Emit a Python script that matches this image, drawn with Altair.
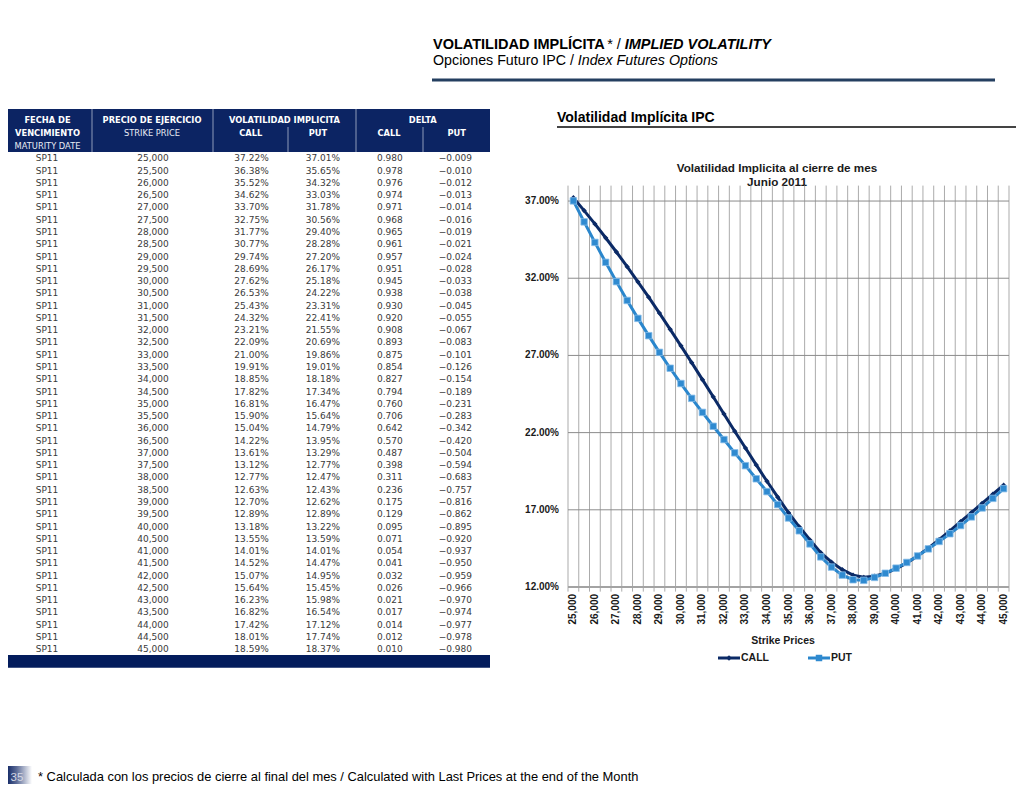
import altair as alt
import pandas as pd

# ---------------- data ----------------
maturity = ["SP11"] * 41
strikes = [25000, 25500, 26000, 26500, 27000, 27500, 28000, 28500, 29000, 29500,
           30000, 30500, 31000, 31500, 32000, 32500, 33000, 33500, 34000, 34500,
           35000, 35500, 36000, 36500, 37000, 37500, 38000, 38500, 39000, 39500,
           40000, 40500, 41000, 41500, 42000, 42500, 43000, 43500, 44000, 44500,
           45000]
call_vol = [37.22, 36.38, 35.52, 34.62, 33.70, 32.75, 31.77, 30.77, 29.74, 28.69,
            27.62, 26.53, 25.43, 24.32, 23.21, 22.09, 21.00, 19.91, 18.85, 17.82,
            16.81, 15.90, 15.04, 14.22, 13.61, 13.12, 12.77, 12.63, 12.70, 12.89,
            13.18, 13.55, 14.01, 14.52, 15.07, 15.64, 16.23, 16.82, 17.42, 18.01,
            18.59]
put_vol = [37.01, 35.65, 34.32, 33.03, 31.78, 30.56, 29.40, 28.28, 27.20, 26.17,
           25.18, 24.22, 23.31, 22.41, 21.55, 20.69, 19.86, 19.01, 18.18, 17.34,
           16.47, 15.64, 14.79, 13.95, 13.29, 12.77, 12.47, 12.43, 12.62, 12.89,
           13.22, 13.59, 14.01, 14.47, 14.95, 15.45, 15.98, 16.54, 17.12, 17.74,
           18.37]
call_delta = [0.980, 0.978, 0.976, 0.974, 0.971, 0.968, 0.965, 0.961, 0.957, 0.951,
              0.945, 0.938, 0.930, 0.920, 0.908, 0.893, 0.875, 0.854, 0.827, 0.794,
              0.760, 0.706, 0.642, 0.570, 0.487, 0.398, 0.311, 0.236, 0.175, 0.129,
              0.095, 0.071, 0.054, 0.041, 0.032, 0.026, 0.021, 0.017, 0.014, 0.012,
              0.010]
put_delta = [-0.009, -0.010, -0.012, -0.013, -0.014, -0.016, -0.019, -0.021, -0.024, -0.028,
             -0.033, -0.038, -0.045, -0.055, -0.067, -0.083, -0.101, -0.126, -0.154, -0.189,
             -0.231, -0.283, -0.342, -0.420, -0.504, -0.594, -0.683, -0.757, -0.816, -0.862,
             -0.895, -0.920, -0.937, -0.950, -0.959, -0.966, -0.970, -0.974, -0.977, -0.978,
             -0.980]
y_ticks = [12, 17, 22, 27, 32, 37]
x_ticks = [25000, 26000, 27000, 28000, 29000, 30000, 31000, 32000, 33000, 34000,
           35000, 36000, 37000, 38000, 39000, 40000, 41000, 42000, 43000, 44000, 45000]

df = pd.DataFrame({
    "mat": maturity, "strike": strikes, "call": call_vol, "put": put_vol,
    "dcall": call_delta, "dput": put_delta,
})
df["row"] = range(len(df))
ydf = pd.DataFrame({"v": y_ticks})
xdf = pd.DataFrame({"v": x_ticks})

ARIAL = "Liberation Sans"
VERD = "DejaVu Sans"
NAVY = "#0c2463"
CALL_C = "#0b2a66"
PUT_C = "#2a86cc"

one = pd.DataFrame({"k": [0]})


def label(text, x, y, size=12, weight="normal", style="normal", align="left",
          color="#000000", font=ARIAL, baseline="middle", angle=0):
    return alt.Chart(one).mark_text(
        text=text, font=font, fontSize=size, fontWeight=weight, fontStyle=style,
        align=align, baseline=baseline, color=color, angle=angle
    ).encode(x=alt.value(x), y=alt.value(y))


def box(x, x2, y, y2, color):
    return alt.Chart(one).mark_rect(color=color).encode(
        x=alt.value(x), x2=alt.value(x2), y=alt.value(y), y2=alt.value(y2))


def hline(x, x2, y, color, w):
    return alt.Chart(one).mark_rule(color=color, strokeWidth=w).encode(
        x=alt.value(x), x2=alt.value(x2), y=alt.value(y))


def vline(x, y, y2, color, w):
    return alt.Chart(one).mark_rule(color=color, strokeWidth=w).encode(
        x=alt.value(x), y=alt.value(y), y2=alt.value(y2))


layers = []

# ---------------- page header ----------------
layers += [
    label("VOLATILIDAD IMPLÍCITA", 425, 36.5, size=14.5, weight="bold"),
    label("* /", 606, 36.5, size=14.5, align="center"),
    label("IMPLIED VOLATILITY", 763, 36.5, size=14.5, weight="bold", style="italic", align="right"),
    label("Opciones Futuro IPC /", 425, 53, size=14.25),
    label("Index Futures Options", 710, 53, size=14.25, style="italic", align="right"),
    hline(424, 987, 72, "#243f60", 3),
]

# ---------------- table ----------------
ROW = alt.Scale(domain=[0, 40], range=[150.3, 641.3])
layers += [box(0, 482, 101, 144, NAVY), box(0, 482, 647, 659.7, "#031c5c")]
for sx in [84, 205, 348]:
    layers.append(vline(sx, 101, 144, "#8e9aba", 1))
for sx in [280, 415]:
    layers.append(vline(sx, 119, 144, "#8e9aba", 1))

hs = 8.3
layers += [
    label("FECHA DE", 39.5, 113, size=hs, weight="bold", align="center", color="white", font=VERD),
    label("VENCIMIENTO", 39.5, 126, size=hs, weight="bold", align="center", color="white", font=VERD),
    label("MATURITY DATE", 39.5, 139, size=hs, align="center", color="#e8ecf4", font=VERD),
    label("PRECIO DE EJERCICIO", 144, 113, size=hs, weight="bold", align="center", color="white", font=VERD),
    label("STRIKE PRICE", 144, 126, size=hs, align="center", color="#e8ecf4", font=VERD),
    label("VOLATILIDAD IMPLICITA", 276.5, 113, size=hs, weight="bold", align="center", color="white", font=VERD),
    label("CALL", 242.7, 126, size=hs, weight="bold", align="center", color="white", font=VERD),
    label("PUT", 310, 126, size=hs, weight="bold", align="center", color="white", font=VERD),
    label("DELTA", 414.7, 113, size=hs, weight="bold", align="center", color="white", font=VERD),
    label("CALL", 381, 126, size=hs, weight="bold", align="center", color="white", font=VERD),
    label("PUT", 448.7, 126, size=hs, weight="bold", align="center", color="white", font=VERD),
]


def tcol(expr, xpos, align):
    return alt.Chart(df).transform_calculate(t=expr).mark_text(
        align=align, baseline="middle", font=VERD, fontSize=9, color="#3a3a3a"
    ).encode(x=alt.value(xpos), y=alt.Y("row:Q", scale=ROW, axis=None), text="t:N")


layers += [
    tcol("datum.mat", 39, "center"),
    tcol("format(datum.strike, ',')", 160.7, "right"),
    tcol("format(datum.call, '.2f') + '%'", 260.7, "right"),
    tcol("format(datum.put, '.2f') + '%'", 332, "right"),
    tcol("format(datum.dcall, '.3f')", 394.7, "right"),
    tcol("format(datum.dput, '.3f')", 464, "right"),
]

# ---------------- chart ----------------
XS = alt.Scale(type="band", domain=strikes, range=[560, 1001], paddingInner=0, paddingOuter=0)
YS = alt.Scale(domain=[12, 38], range=[579, 177.6], nice=False, zero=False)

layers += [
    label("Volatilidad Implícita IPC", 549, 110, size=14, weight="bold"),
    hline(549, 1008, 119, "#444444", 2),
    label("Volatilidad Implicita  al cierre de mes", 769, 160, size=11.7, weight="bold",
          color="#1a1a1a", align="center"),
    label("Junio 2011", 769, 174, size=11.7, weight="bold", color="#1a1a1a", align="center"),
]

# vertical gridlines at category boundaries
layers.append(alt.Chart(df).mark_rule(color="#ababab", strokeWidth=1).encode(
    x=alt.X("strike:O", scale=XS, axis=None, bandPosition=0),
    y=alt.YDatum(38, type="quantitative", scale=YS, axis=None),
    y2=alt.Y2Datum(11.7),
))
layers.append(alt.Chart(df.tail(1)).mark_rule(color="#ababab", strokeWidth=1).encode(
    x=alt.X("strike:O", scale=XS, axis=None, bandPosition=1),
    y=alt.YDatum(38, type="quantitative", scale=YS, axis=None),
    y2=alt.Y2Datum(11.7),
))
# horizontal gridlines
layers.append(alt.Chart(ydf).transform_filter("datum.v > 12").mark_rule(
    color="#8c8c8c", strokeWidth=1).encode(
    y=alt.Y("v:Q", scale=YS, axis=None),
    x=alt.XDatum(strikes[0], type="ordinal", scale=XS, axis=None, bandPosition=0),
    x2=alt.X2Datum(strikes[-1], bandPosition=1),
))
layers.append(alt.Chart(ydf).transform_filter("datum.v == 12").mark_rule(
    color="#a3a3a3", strokeWidth=2).encode(
    y=alt.Y("v:Q", scale=YS, axis=None),
    x=alt.XDatum(strikes[0], type="ordinal", scale=XS, axis=None, bandPosition=0),
    x2=alt.X2Datum(strikes[-1], bandPosition=1),
))
# y labels
layers.append(alt.Chart(ydf).transform_calculate(t="format(datum.v, '.2f') + '%'").mark_text(
    align="right", baseline="middle", font=ARIAL, fontWeight="bold", fontSize=10, dx=-9,
    color="#1a1a1a").encode(
    x=alt.XDatum(strikes[0], type="ordinal", scale=XS, axis=None, bandPosition=0),
    y=alt.Y("v:Q", scale=YS, axis=None),
    text="t:N",
))
# x labels
layers.append(alt.Chart(xdf).mark_text(
    angle=270, align="right", baseline="middle", font=ARIAL, fontWeight="bold", fontSize=10,
    color="#1a1a1a").encode(
    x=alt.X("v:O", scale=XS, axis=None, bandPosition=0.5),
    y=alt.YDatum(11.55, type="quantitative", scale=YS, axis=None),
    text=alt.Text("v:Q", format=","),
))
layers.append(label("Strike Prices", 775, 633, size=10.5, weight="bold", align="center", color="#1a1a1a"))

# series
base = alt.Chart(df)
xenc = alt.X("strike:O", scale=XS, axis=None, bandPosition=0.5)
layers += [
    base.mark_line(color=CALL_C, strokeWidth=3).encode(x=xenc, y=alt.Y("call:Q", scale=YS, axis=None)),
    base.mark_point(shape="diamond", filled=True, size=28, color=CALL_C, opacity=1).encode(
        x=xenc, y=alt.Y("call:Q", scale=YS, axis=None)),
    base.mark_line(color=PUT_C, strokeWidth=3).encode(x=xenc, y=alt.Y("put:Q", scale=YS, axis=None)),
    base.mark_point(shape="square", filled=True, size=42, color="#2f8ad0", opacity=1,
                    stroke="#86bde8", strokeWidth=0.8).encode(
        x=xenc, y=alt.Y("put:Q", scale=YS, axis=None)),
]

# legend
layers += [
    hline(710, 732, 650, CALL_C, 3),
    alt.Chart(one).mark_point(shape="diamond", filled=True, size=30, color=CALL_C, opacity=1).encode(
        x=alt.value(721), y=alt.value(650)),
    label("CALL", 733, 650, size=10.5, weight="bold", color="#1a1a1a"),
    hline(800, 822, 650, PUT_C, 3),
    alt.Chart(one).mark_point(shape="square", filled=True, size=42, color="#2f8ad0", opacity=1).encode(
        x=alt.value(811), y=alt.value(650)),
    label("PUT", 823, 650, size=10.5, weight="bold", color="#1a1a1a"),
]

# ---------------- footer ----------------
grad = alt.LinearGradient(
    gradient="linear",
    stops=[alt.GradientStop(offset=0, color="#1a2f6a"),
           alt.GradientStop(offset=0.35, color="#5a6a96"),
           alt.GradientStop(offset=1, color="#ffffff")],
    x1=0, x2=1, y1=0, y2=0)
layers += [
    alt.Chart(one).mark_rect(color=grad).encode(
        x=alt.value(0), x2=alt.value(24), y=alt.value(758), y2=alt.value(776)),
    label("35", 9, 772.5, size=11.5, color="#d4d8e4", align="center", baseline="alphabetic"),
    label("* Calculada con los precios de cierre al final del mes / Calculated with Last Prices at the end of the Month",
          30, 772.5, size=12.9, baseline="alphabetic"),
]

chart = alt.layer(*layers).resolve_scale(x="independent", y="independent").properties(
    width=1008, height=776, padding=0, autosize=alt.AutoSizeParams(type="none")
).configure_view(stroke=None)

chart.save("out.html", embed_options={"renderer": "svg", "actions": False})
